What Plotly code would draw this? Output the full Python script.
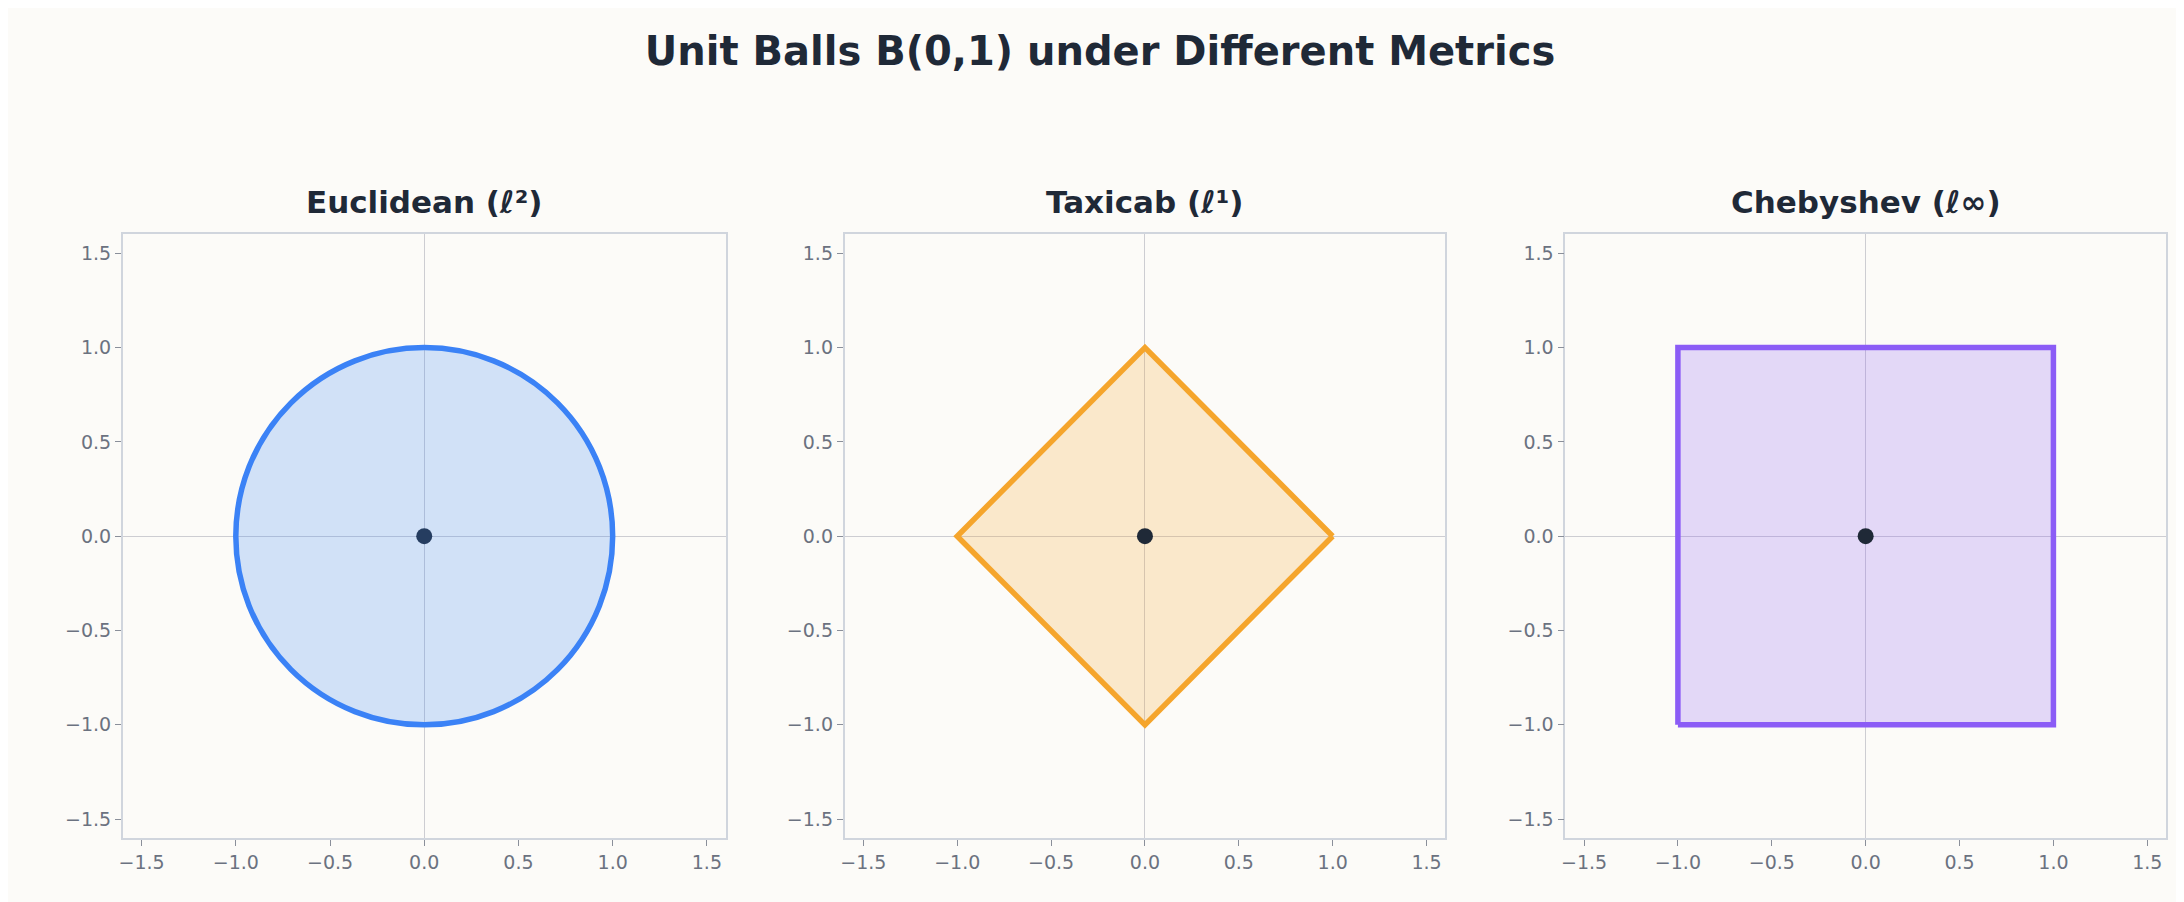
import plotly.graph_objects as go

titles = ["Euclidean (ℓ²)", "Taxicab (ℓ¹)", "Chebyshev (ℓ∞)"]
colors = ["#3b82f6", "#f5a52c", "#8b5cf6"]
fills = ["rgba(59,130,246,0.22)", "rgba(245,165,44,0.22)", "rgba(139,92,246,0.22)"]
diamond_x = [1, 0, -1, 0, 1]
diamond_y = [0, 1, 0, -1, 0]
square_x = [-1, 1, 1, -1, -1]
square_y = [-1, -1, 1, 1, -1]
radius = 1
ticks = [-1.5, -1.0, -0.5, 0.0, 0.5, 1.0, 1.5]
ticktext = ["−1.5", "−1.0", "−0.5", "0.0", "0.5", "1.0", "1.5"]

bg = "#fcfbf8"
fig = go.Figure()
domains = [(0.0508, 0.3274), (0.3819, 0.6575), (0.7125, 0.9881)]
ydom = (0.0798, 0.749)
font = "DejaVu Sans"

for i in range(3):
    xa = "x" if i == 0 else f"x{i+1}"
    ya = "y" if i == 0 else f"y{i+1}"
    ax = dict(range=[-1.6, 1.6], tickvals=ticks, ticktext=ticktext, showgrid=False,
              zeroline=True, zerolinecolor="#cdcdd2", zerolinewidth=1.2,
              showline=True, linecolor="#d0d5dd", mirror=True, linewidth=1.5,
              ticks="outside", ticklen=6, tickcolor="#8a8f9a",
              tickfont=dict(family=font, size=19, color="#6b7280"))
    fig.layout[f"xaxis{'' if i==0 else i+1}"] = dict(ax, domain=domains[i], anchor=ya)
    fig.layout[f"yaxis{'' if i==0 else i+1}"] = dict(ax, domain=ydom, anchor=xa)
    if i == 1:
        fig.add_trace(go.Scatter(x=diamond_x, y=diamond_y, mode="lines", fill="toself",
                                 fillcolor=fills[i], line=dict(color=colors[i], width=5.5),
                                 xaxis=xa, yaxis=ya, showlegend=False))
    elif i == 2:
        fig.add_trace(go.Scatter(x=square_x, y=square_y, mode="lines", fill="toself",
                                 fillcolor=fills[i], line=dict(color=colors[i], width=5.5),
                                 xaxis=xa, yaxis=ya, showlegend=False))
    else:
        fig.add_shape(type="circle", xref=xa, yref=ya, x0=-radius, x1=radius, y0=-radius, y1=radius,
                      fillcolor=fills[i], line=dict(color=colors[i], width=5.5))
    fig.add_trace(go.Scatter(x=[0], y=[0], mode="markers", marker=dict(color="#1f2937", size=16),
                             xaxis=xa, yaxis=ya, showlegend=False))
    fig.add_annotation(text=f"<b>{titles[i]}</b>", x=sum(domains[i]) / 2, y=ydom[1] + 0.014,
                       xref="paper", yref="paper", xanchor="center", yanchor="bottom", showarrow=False,
                       font=dict(family=font, size=31, color="#1f2937"))

fig.update_layout(
    width=2184, height=902, margin=dict(l=0, r=0, t=0, b=0),
    paper_bgcolor=bg, plot_bgcolor=bg,
    title=dict(text="<b>Unit Balls B(0,1) under Different Metrics</b>", x=0.5, xanchor="center",
               y=0.952, yanchor="middle", font=dict(family=font, size=40, color="#1f2937")),
)
fig.write_html("out.html")
